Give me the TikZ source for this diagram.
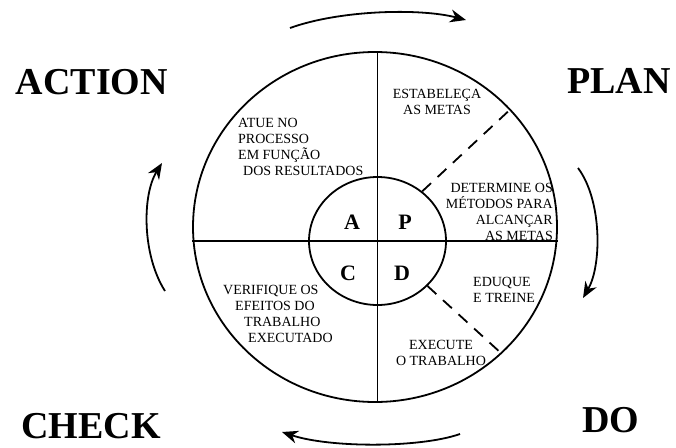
\documentclass[tikz,border=0pt]{standalone}
\usepackage{fontspec}
\setmainfont{Liberation Serif}
\usetikzlibrary{shapes.geometric,arrows.meta}
\begin{document}
\begin{tikzpicture}[x=1pt,y=-1pt,
  ring/.style={draw, ellipse, line width=1.8pt, inner sep=0pt},
  big/.style={font=\fontsize{38}{40}\selectfont\bfseries, inner sep=0pt},
  quad/.style={font=\fontsize{22}{24}\selectfont\bfseries, inner sep=0pt},
  note/.style={font=\fontsize{14}{16}\selectfont, inner sep=0pt},
  cyc/.style={line width=1.8pt, -{Stealth[length=16pt,width=13pt]}},
  cut/.style={line width=1.8pt},
  dashcut/.style={line width=1.8pt, dash pattern=on 12pt off 9pt},
]
\useasboundingbox (0,0) rectangle (676,447);
\fill[white] (0,0) rectangle (676,447);
% circles
\node[ring, minimum width=364pt, minimum height=350pt] (outer) at (375,227) {};
\node[ring, minimum width=137pt, minimum height=128pt] (inner) at (377.5,241) {};
% cross
\draw[cut] (inner.center |- outer.north) -- (inner.center |- outer.south);
\draw[cut] (outer.west |- inner.center) -- (outer.east |- inner.center);
% dashed dividers
\draw[dashcut] (inner.48) -- (outer.41);
\draw[dashcut] (inner.-42) -- (outer.-45);
% quadrant letters
\node[quad] (qa) at (352,222) {A};
\node[quad] (qp) at (405,222) {P};
\node[quad] (qc) at (348,273) {C};
\node[quad] (qd) at (402,273) {D};
% labels
\node[big] (action) at (92,82) {ACTION};
\node[big] (plan) at (619,81) {PLAN};
\node[big] (check) at (91,426) {CHECK};
\node[big] (do) at (611,420) {DO};
% texts
\node[note, align=center] (plan1) at (437,102) {ESTABELEÇA\\AS METAS};
\node[note, align=left, anchor=west] (act1) at (238,147) {ATUE NO\\PROCESSO\\EM FUNÇÃO\\\hspace*{5pt}DOS RESULTADOS};
\node[note, align=right, anchor=east] (plan2) at (553,212) {DETERMINE OS\\MÉTODOS PARA\\ALCANÇAR\\AS METAS};
\node[note, align=left, anchor=west] (do1) at (473,290) {EDUQUE\\E TREINE};
\node[note, align=left, anchor=west] (chk1) at (223,314) {VERIFIQUE OS\\\hspace*{12pt}EFEITOS DO\\\hspace*{21pt}TRABALHO\\\hspace*{25pt}EXECUTADO};
\node[note, align=center] (do2) at (441,353) {EXECUTE\\O TRABALHO};
% cycle arrows
\coordinate (t0) at (290,28);
\coordinate (t1) at (466,20);
\coordinate (r0) at (578,168);
\coordinate (r1) at (583,298);
\coordinate (b0) at (460,434);
\coordinate (b1) at (282,432);
\coordinate (l0) at (165,291);
\coordinate (l1) at (162,163);
\draw[cyc] (t0) .. controls (340,10) and (420,8) .. (t1);
\draw[cyc] (r0) .. controls (602,200) and (602,265) .. (r1);
\draw[cyc] (b0) .. controls (420,448) and (330,448) .. (b1);
\draw[cyc] (l0) .. controls (142,255) and (142,195) .. (l1);
\end{tikzpicture}
\end{document}
